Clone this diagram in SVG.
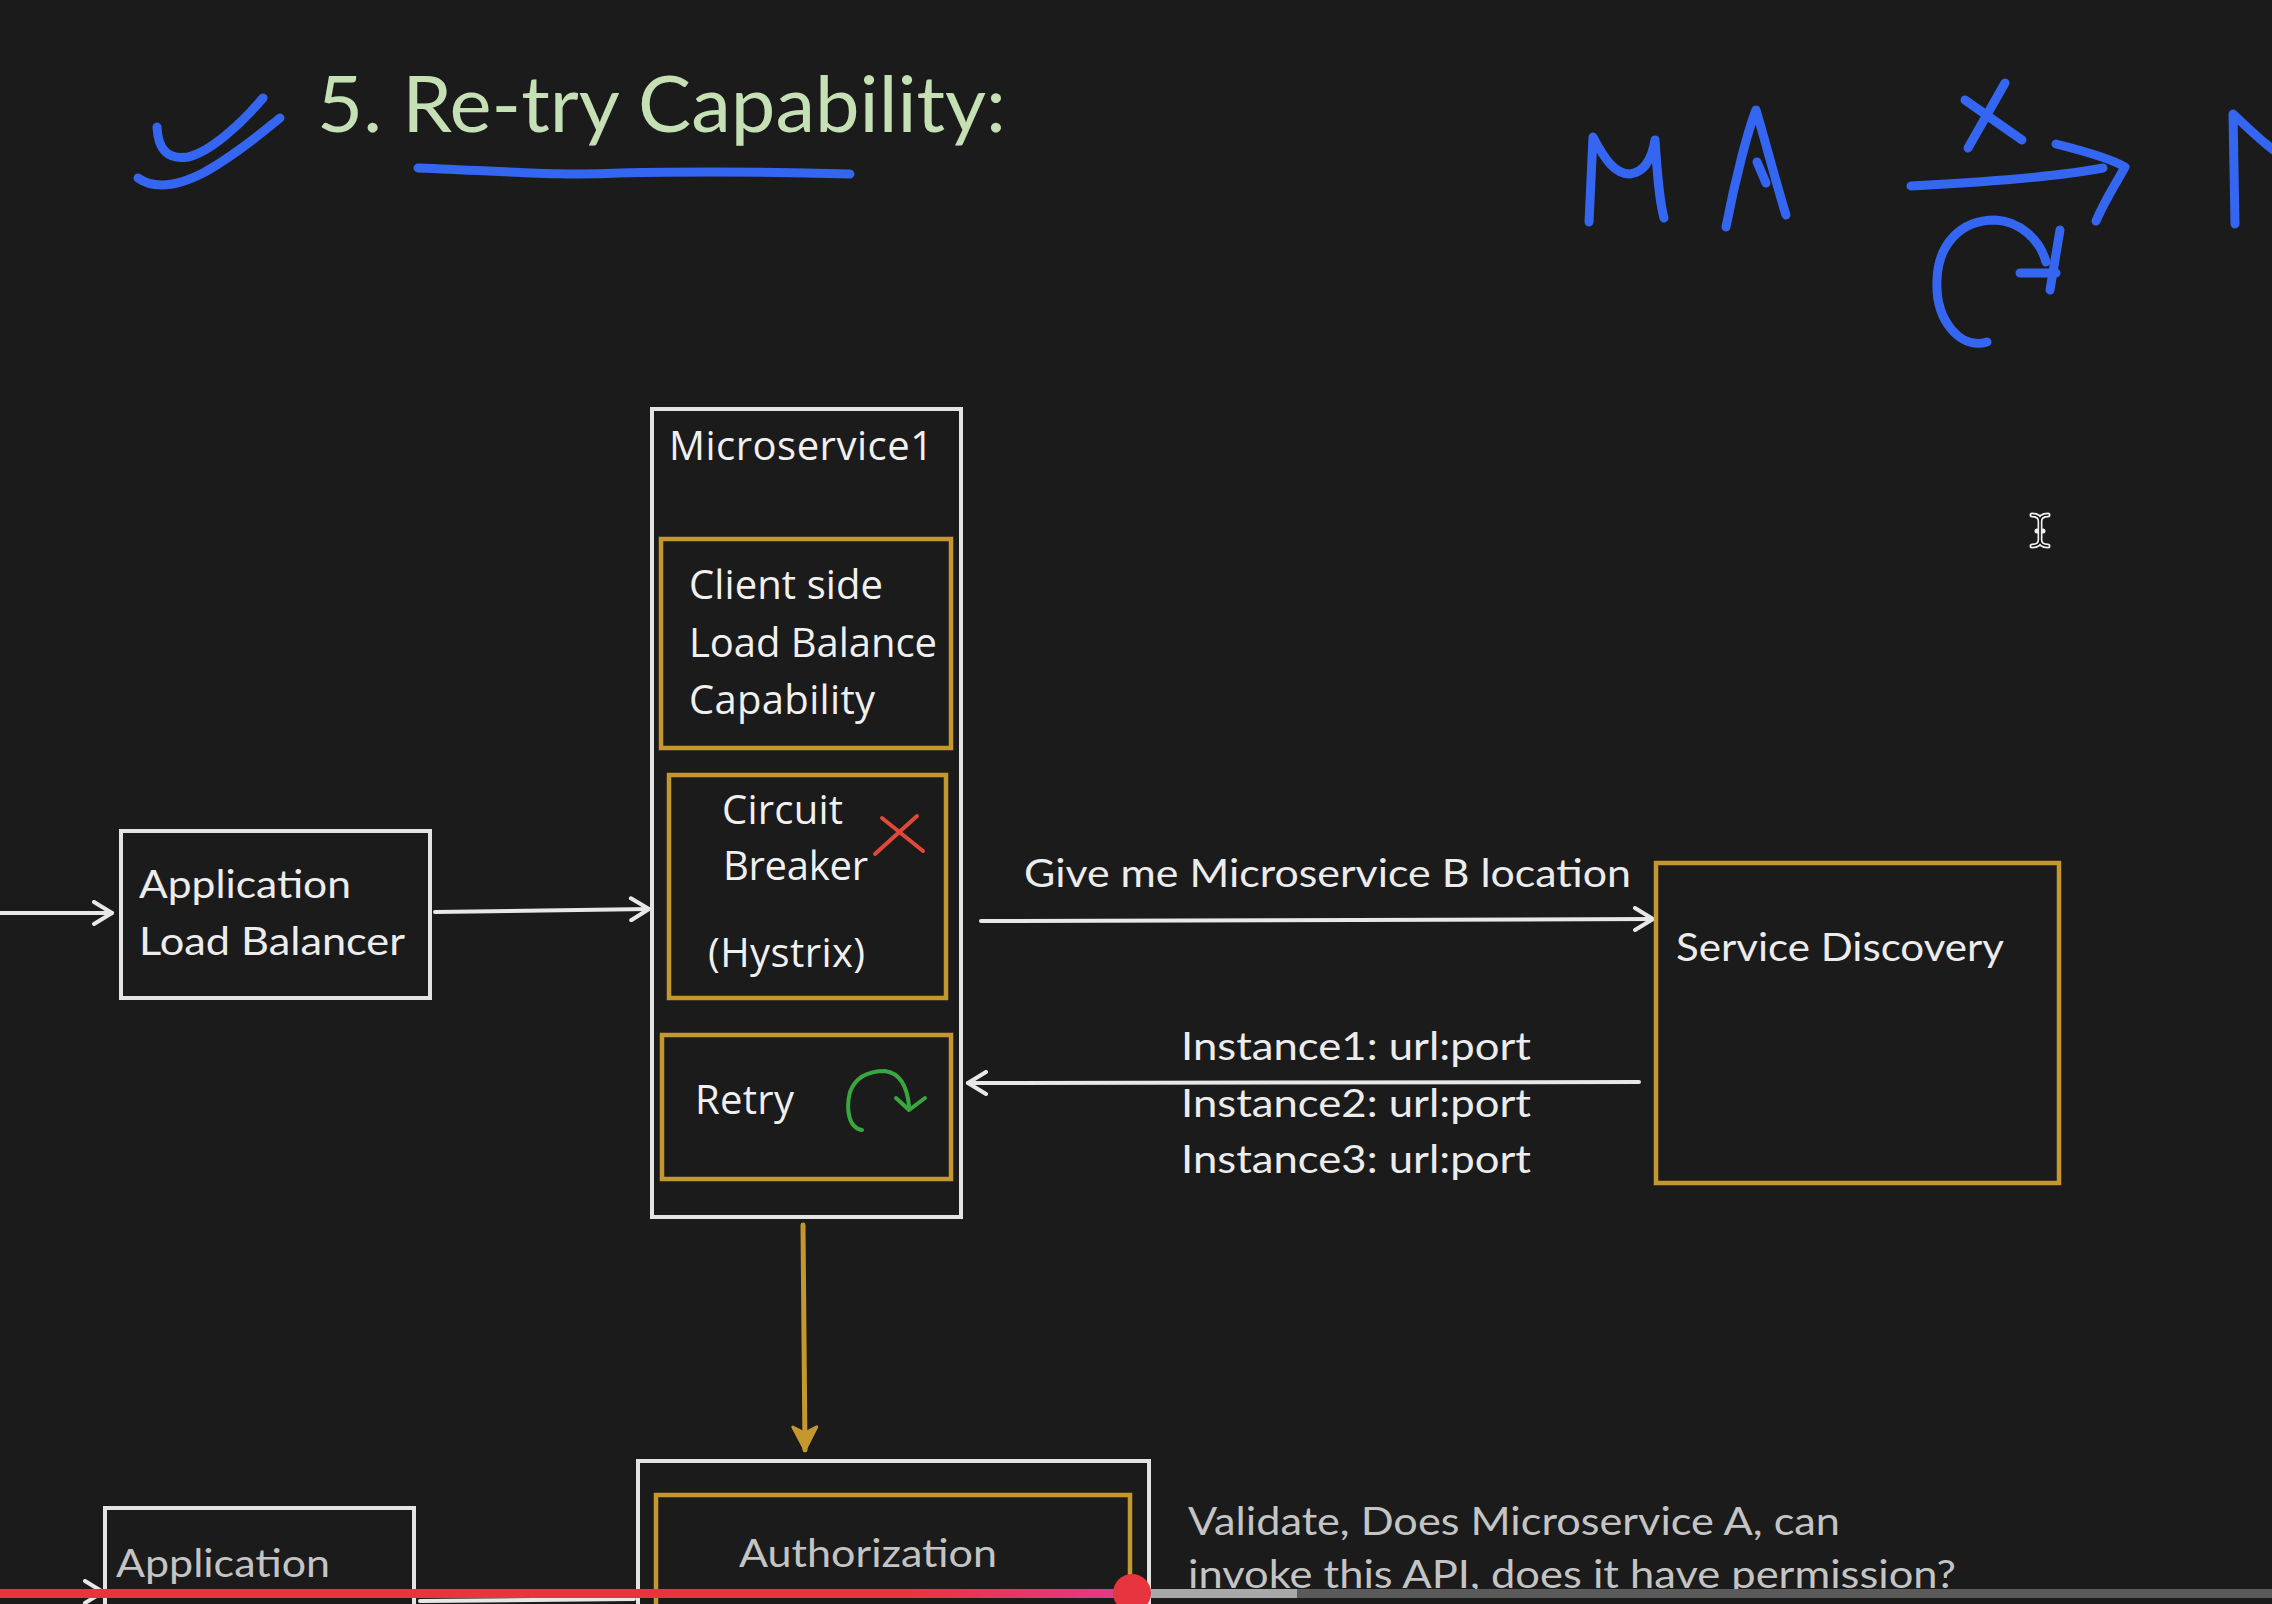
<svg xmlns="http://www.w3.org/2000/svg" width="2272" height="1604" viewBox="0 0 2272 1604">
<defs>
<style>
.bg{fill:#1b1b1b}
.wbox{fill:none;stroke:#e4e4e4;stroke-width:4}
.gbox{fill:none;stroke:#c4982e;stroke-width:4.5}
.os{font-family:"Open Sans","DejaVu Sans",sans-serif;fill:#f0f0f0;font-size:40px}
.lt{font-family:Lato,"Liberation Sans",sans-serif;fill:#ececec;font-size:38px}
.dim{fill:#c4c4c4}
.wline{fill:none;stroke:#e8e8e8;stroke-width:4;stroke-linecap:round}
.gline{fill:none;stroke:#c4982e;stroke-width:5;stroke-linecap:round}
.ink{fill:none;stroke:#3466f2;stroke-width:9;stroke-linecap:round;stroke-linejoin:round}
</style>
<marker id="wa" viewBox="0 0 24 26" refX="21" refY="13" markerWidth="24" markerHeight="26" markerUnits="userSpaceOnUse" orient="auto">
<path d="M3,2 L21,13 L3,24" fill="none" stroke="#e8e8e8" stroke-width="4" stroke-linecap="round" stroke-linejoin="round"/>
</marker>
<marker id="ga" viewBox="0 0 30 30" refX="26" refY="15" markerWidth="30" markerHeight="30" markerUnits="userSpaceOnUse" orient="auto">
<path d="M3,3 L26,15 L3,27 L9,15 Z" fill="#c4982e" stroke="#c4982e" stroke-width="3" stroke-linejoin="round"/>
</marker>
<linearGradient id="prog" x1="0" y1="0" x2="1" y2="0">
<stop offset="0" stop-color="#e8343f"/>
<stop offset="0.8" stop-color="#e8343f"/>
<stop offset="1" stop-color="#e23a8c"/>
</linearGradient>
</defs>
<rect class="bg" x="0" y="0" width="2272" height="1604"/>

<g id="title">
<text x="317" y="132" font-family="Lato, 'Liberation Sans', sans-serif" font-size="78" fill="#c5e0b4" textLength="689" lengthAdjust="spacingAndGlyphs">5. Re-try Capability:</text>
<path class="ink" d="M157,127 C158,150 168,160 188,157 C210,152 240,125 263,98"/>
<path class="ink" d="M138,178 C155,190 180,185 205,172 C240,152 265,130 280,118"/>
<path class="ink" d="M418,168 C520,172 560,176 620,173 C700,171 780,172 850,174"/>
</g>

<g id="handwriting">
<path class="ink" d="M1589,222 L1593,137 C1605,160 1615,174 1630,174 C1645,172 1652,158 1655,140 C1657,170 1659,200 1664,218"/>
<path class="ink" d="M1726,227 C1735,180 1748,130 1756,110 C1765,140 1778,190 1786,215"/>
<path class="ink" d="M1757,162 L1766,183"/>
<path class="ink" d="M1911,186 C1970,183 2050,178 2103,168"/>
<path class="ink" d="M2056,144 C2080,150 2110,158 2125,167 C2115,185 2105,200 2096,221"/>
<path class="ink" d="M1965,100 L2022,140 M2005,83 L1968,148"/>
<path class="ink" d="M1987,342 C1960,350 1935,320 1937,280 C1938,245 1960,220 1995,220 C2020,221 2040,240 2046,262"/>
<path class="ink" d="M2060,230 L2050,290 M2020,273 L2056,273"/>
<path class="ink" d="M2235,224 L2233,114 C2245,125 2260,140 2276,152"/>
</g>

<g id="cursor">
<path d="M2032,515 Q2040,515 2040,521 Q2040,515 2048,515 M2040,521 L2040,540 M2032,546 Q2040,546 2040,540 Q2040,546 2048,546 M2037,531 L2043,531" fill="none" stroke="#f0f0f0" stroke-width="5" stroke-linecap="round"/>
<path d="M2032,515 Q2040,515 2040,521 Q2040,515 2048,515 M2040,521 L2040,540 M2032,546 Q2040,546 2040,540 Q2040,546 2048,546" fill="none" stroke="#111" stroke-width="1.6" stroke-linecap="round"/>
</g>

<g id="connectors">
<path class="wline" d="M0,913 L112,913" marker-end="url(#wa)"/>
<path class="wline" d="M435,912 L649,909" marker-end="url(#wa)"/>
<path class="wline" d="M981,921 L1653,919" marker-end="url(#wa)"/>
<path class="wline" d="M1639,1082 L968,1083" marker-end="url(#wa)"/>
<path class="gline" d="M803,1225 L805,1450" marker-end="url(#ga)"/>
<path class="wline" d="M0,1592 L103,1592" marker-end="url(#wa)"/>
<path class="wline" d="M420,1601 L634,1599"/>
</g>

<g id="alb">
<rect class="wbox" x="121" y="831" width="309" height="167"/>
<text class="lt" x="139" y="898" font-size="39" textLength="212" lengthAdjust="spacingAndGlyphs">Application</text>
<text class="lt" x="139" y="955" font-size="39" textLength="266" lengthAdjust="spacingAndGlyphs">Load Balancer</text>
</g>

<g id="microservice1">
<rect class="wbox" x="652" y="409" width="309" height="808"/>
<text class="os" x="669" y="460" font-size="42" textLength="264">Microservice1</text>
</g>

<g id="client-lb">
<rect class="gbox" x="661" y="539" width="290" height="209"/>
<text class="os" x="689" y="599" textLength="194">Client side</text>
<text class="os" x="689" y="657" textLength="248">Load Balance</text>
<text class="os" x="689" y="714" textLength="186">Capability</text>
</g>

<g id="circuit-breaker">
<rect class="gbox" x="669" y="775" width="277" height="223"/>
<text class="os" x="722" y="824" textLength="121">Circuit</text>
<text class="os" x="723" y="880" textLength="145">Breaker</text>
<text class="os" x="708" y="967" textLength="157">(Hystrix)</text>
<path d="M882,818 L923,851 M875,854 L917,816" fill="none" stroke="#e0483a" stroke-width="4" stroke-linecap="round"/>
</g>

<g id="retry">
<rect class="gbox" x="662" y="1035" width="289" height="144"/>
<text class="os" x="695" y="1114" textLength="99">Retry</text>
<path d="M862,1130 C848,1128 846,1108 850,1092 C856,1076 870,1071 885,1071 C899,1073 907,1085 909,1106" fill="none" stroke="#3aa640" stroke-width="4" stroke-linecap="round"/>
<path d="M896,1098 L909,1110 L925,1098" fill="none" stroke="#3aa640" stroke-width="4" stroke-linecap="round" stroke-linejoin="round"/>
</g>

<g id="service-discovery">
<rect class="gbox" x="1656" y="863" width="403" height="320"/>
<text class="lt" x="1676" y="961" textLength="328" lengthAdjust="spacingAndGlyphs">Service Discovery</text>
</g>

<g id="labels">
<text class="lt" x="1024" y="887" textLength="607" lengthAdjust="spacingAndGlyphs">Give me Microservice B location</text>
<text class="lt" x="1181" y="1060" textLength="350" lengthAdjust="spacingAndGlyphs">Instance1: url:port</text>
<text class="lt" x="1181" y="1117" textLength="350" lengthAdjust="spacingAndGlyphs">Instance2: url:port</text>
<text class="lt" x="1181" y="1173" textLength="350" lengthAdjust="spacingAndGlyphs">Instance3: url:port</text>
</g>

<g id="authorization">
<rect class="wbox" x="638" y="1461" width="511" height="200"/>
<rect class="gbox" x="656" y="1495" width="474" height="200"/>
<text class="lt dim" x="739" y="1567" font-size="40" textLength="258" lengthAdjust="spacingAndGlyphs">Authorization</text>
</g>

<g id="validate-note">
<text class="lt dim" x="1188" y="1535" font-size="40" textLength="652" lengthAdjust="spacingAndGlyphs">Validate, Does Microservice A, can</text>
<text class="lt dim" x="1188" y="1588" font-size="40" textLength="768" lengthAdjust="spacingAndGlyphs">invoke this API, does it have permission?</text>
</g>

<g id="alb2">
<rect class="wbox" x="105" y="1508" width="309" height="200"/>
<text class="lt dim" x="116" y="1577" font-size="40" textLength="214" lengthAdjust="spacingAndGlyphs">Application</text>
</g>

<g id="progress">
<rect x="1132" y="1589" width="1140" height="9" fill="#5a5a5a"/>
<rect x="1132" y="1589" width="165" height="9" fill="#a8a8a8"/>
<rect x="0" y="1589" width="1132" height="9" fill="url(#prog)"/>
<circle cx="1132" cy="1593" r="19" fill="#e8343f"/>
</g>
</svg>
